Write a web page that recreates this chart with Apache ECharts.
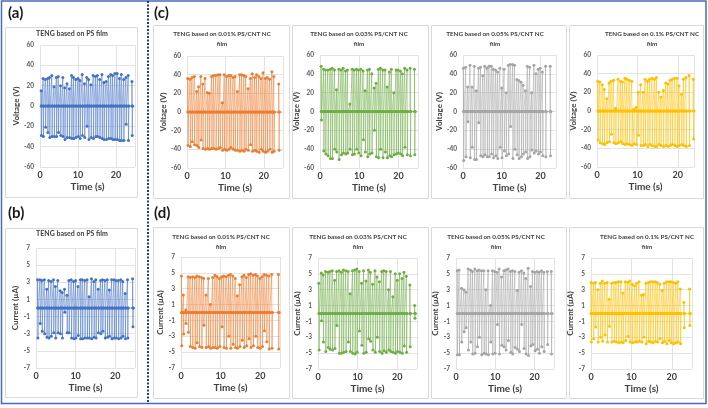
<!DOCTYPE html>
<html>
<head>
<meta charset="utf-8">
<script src="https://cdn.jsdelivr.net/npm/echarts@6/dist/echarts.min.js"></script>
<style>
  html, body { margin: 0; padding: 0; background: #fff; }
  #chart { width: 708px; height: 408px; }
</style>
</head>
<body>
<div id="chart"></div>
<script>
// time stamps (s) of each output pulse, and the peak values
const timeA = [0.3,0.8,1.4,2.0,2.5,3.1,3.7,4.3,4.8,5.4,6.0,6.5,7.1,7.7,8.3,8.8,9.4,10.0,10.5,11.1,11.7,12.3,12.8,13.4,14.0,14.6,15.1,15.7,16.3,16.8,17.4,18.0,18.6,19.1,19.7,20.3,20.9,21.4,22.0,22.6,23.2,24.2];
const upA = [15,27,26,27,28,30,19,28,29,20,28,18,22,17,30,28,26,27,25,31,22,28,26,21,30,29,30,26,31,23,24,29,31,30,32,32,27,31,26,28,30,24];
const dnA = [-29,-30,-21,-26,-31,-30,-30,-30,-26,-29,-30,-33,-31,-31,-32,-32,-31,-30,-32,-29,-31,-20,-33,-31,-32,-30,-30,-31,-32,-33,-33,-32,-32,-33,-33,-33,-34,-34,-34,-18,-34,-29];

const timeB = [0.4,1.0,1.5,2.1,2.7,3.2,3.8,4.4,4.9,5.5,6.1,6.6,7.2,7.8,8.3,8.9,9.5,10.0,10.6,11.2,11.7,12.3,12.9,13.4,14.0,14.6,15.1,15.7,16.3,16.8,17.4,18.0,18.5,19.1,19.7,20.2,20.8,21.4,21.9,22.5,23.1,24.4];
const upB = [3.3,3.3,3.2,3.3,2.2,3.2,3.1,3.3,2.5,3.2,2.0,1.8,2.2,1.5,3.2,3.3,3.1,3.2,2.5,3.3,3.3,3.2,3.3,1.3,3.4,3.1,3.3,2.2,3.2,3.3,3.2,3.3,2.1,3.3,3.3,3.2,3.2,3.3,3.1,1.7,3.3,3.4];
const dnB = [-3.5,-1.8,-2.7,-3.0,-3.4,-3.5,-3.3,-2.9,-3.5,-2.9,-3.0,-3.5,-0.5,-2.9,-2.9,-3.5,-3.6,-3.5,-3.2,-3.6,-3.6,-3.5,-3.5,-3.5,-3.6,-3.4,-3.5,-2.9,-3.0,-2.7,-3.5,-3.4,-3.3,-3.6,-3.5,-3.5,-3.6,-3.5,-3.3,-3.6,-3.5,-2.2];

const timeC1 = [0.2,0.8,1.3,1.9,2.5,3.0,3.6,4.1,4.7,5.3,5.8,6.4,6.9,7.5,8.1,8.6,9.2,9.7,10.3,10.9,11.4,12.0,12.5,13.1,13.7,14.2,14.8,15.3,15.9,16.5,17.0,17.6,18.1,18.7,19.3,19.8,20.4,20.9,21.5,22.1,22.6,23.9];
const upC1 = [36,35,37,38,22,27,38,30,36,21,20,38,39,39,40,40,10,40,38,39,39,37,38,22,40,40,39,38,25,36,41,37,40,38,36,42,36,37,35,43,38,30];
const dnC1 = [-36,-37,-32,-35,-36,-38,-30,-39,-40,-39,-40,-39,-39,-40,-39,-38,-41,-40,-41,-40,-38,-40,-41,-41,-42,-41,-42,-40,-41,-35,-42,-41,-42,-43,-40,-42,-43,-42,-40,-43,-42,-41];

const timeC2 = [0.3,0.9,1.4,2.0,2.6,3.1,3.7,4.2,4.8,5.4,5.9,6.5,7.0,7.6,8.2,8.7,9.3,9.8,10.4,11.0,11.5,12.1,12.6,13.2,13.8,14.3,14.9,15.4,16.0,16.6,17.1,17.7,18.2,18.8,19.4,19.9,20.5,21.0,21.6,22.2,23.0,24.1];
const upC2 = [48,45,44,44,45,46,44,23,45,44,46,43,44,8,45,44,45,44,45,43,22,44,45,40,25,30,45,46,44,44,26,42,45,20,44,44,43,40,46,44,46,45];
const dnC2 = [-9,-42,-45,-47,-50,-50,-40,-43,-51,-46,-44,-45,-44,-40,-46,-45,-40,-44,-47,-30,-43,-48,-45,-44,-20,-48,-49,-40,-49,-43,-49,-47,-48,-46,-45,-44,-45,-47,-38,-46,-47,-46];

const timeC3 = [0.1,0.7,1.2,1.8,2.3,2.9,3.4,4.0,4.5,5.1,5.6,6.2,6.7,7.3,7.8,8.4,8.9,9.5,10.0,10.6,11.1,11.7,12.2,12.8,13.3,13.9,14.4,15.0,15.5,16.1,16.6,17.2,17.7,18.3,18.8,19.4,19.9,20.5,21.3,22.5];
const upC3 = [46,47,26,49,26,48,22,46,47,38,48,46,48,48,45,44,42,46,25,45,20,49,50,50,49,34,33,31,28,22,48,47,20,49,40,45,46,42,48,48];
const dnC3 = [-52,-48,-11,-49,-38,-51,-51,-12,-47,-48,-46,-48,-48,-45,-49,-47,-50,-38,-49,-42,-47,-45,-16,-50,-40,-46,-50,-48,-45,-43,-50,-48,-41,-44,-42,-45,-43,-47,-48,-47];

const timeC4 = [0.2,0.7,1.3,1.8,2.4,3.0,3.5,4.1,4.6,5.2,5.8,6.3,6.9,7.4,8.0,8.6,9.1,9.7,10.2,10.8,11.4,11.9,12.5,13.0,13.6,14.2,14.7,15.3,15.8,16.4,17.0,17.5,18.1,18.6,19.2,19.8,20.3,20.9,21.4,22.0,22.8,23.8];
const upC4 = [32,31,28,23,13,30,32,33,3,34,32,31,35,34,33,32,2,4,20,28,20,34,32,34,35,34,36,20,15,22,30,29,33,34,35,35,27,18,34,36,38,34];
const dnC4 = [-31,-34,-35,-36,-34,-33,-25,-34,-35,-34,-33,-35,-36,-35,-36,-37,-35,-36,-26,-37,-37,-36,-38,-36,-37,-38,-38,-36,-37,-38,-37,-38,-37,-36,-37,-38,-37,-36,-37,-38,-37,-30];

const timeD1 = [0.1,0.6,1.2,1.8,2.3,2.9,3.5,4.0,4.6,5.2,5.7,6.3,6.9,7.4,8.0,8.6,9.1,9.7,10.3,10.8,11.4,12.0,12.5,13.1,13.7,14.2,14.8,15.4,15.9,16.5,17.1,17.6,18.2,18.8,19.3,19.9,20.5,21.0,21.6,22.2,22.9,24.6];
const upD1 = [4.6,2.2,0.3,4.5,4.4,4.5,4.4,4.6,4.5,4.4,4.3,2.2,4.3,1.0,4.4,4.7,4.5,4.3,4.5,4.6,4.5,4.7,4.8,4.6,4.3,2.1,3.5,4.5,4.7,4.4,4.8,4.9,4.7,4.8,4.6,4.3,4.5,4.8,4.7,4.6,4.8,4.8];
const dnD1 = [-4.2,-2.7,-1.4,-2.5,-4.3,-4.4,-4.5,-3.8,-4.3,-4.4,-1.6,-4.4,-4.3,-4.5,-4.4,-4.4,-4.5,-4.3,-1.8,-4.4,-4.5,-3.0,-4.5,-4.0,-4.4,-4.5,-4.3,-3.5,-4.4,-4.2,-3.3,-4.4,-4.2,-3.0,-4.4,-4.5,-4.3,-2.3,-3.7,-4.6,-4.5,-4.6];

const timeD2 = [0.2,0.8,1.3,1.9,2.5,3.0,3.6,4.2,4.7,5.3,5.9,6.4,7.0,7.6,8.1,8.7,9.3,9.8,10.4,11.0,11.5,12.1,12.7,13.2,13.8,14.4,14.9,15.5,16.1,16.6,17.2,17.8,18.3,18.9,19.5,20.0,20.6,21.2,21.7,22.3,23.2,24.4];
const upD2 = [3.8,5.1,4.9,5.3,5.2,5.3,5.4,4.2,5.3,5.4,5.2,5.5,5.4,5.3,2.5,5.4,5.5,5.6,5.3,3.8,5.4,4.1,5.5,5.2,3.7,5.4,4.6,4.0,5.3,5.4,5.3,3.0,5.3,2.1,5.0,4.2,5.0,4.4,5.2,4.7,3.6,1.0];
const dnD2 = [-4.6,-0.9,-3.6,-4.8,-4.3,-4.5,-4.6,-4.4,-1.5,-5.0,-5.0,-4.9,-4.8,-3.6,-4.8,-5.0,-5.1,-4.9,-2.2,-4.0,-5.0,-4.9,-3.2,-3.5,-4.6,-4.9,-3.0,-4.8,-5.0,-4.7,-4.9,-4.6,-4.8,-4.9,-5.0,-4.8,-4.9,-5.0,-4.1,-4.9,-4.2,-0.6];

const timeD3 = [0.3,0.8,1.4,2.0,2.5,3.1,3.7,4.2,4.8,5.4,5.9,6.5,7.1,7.6,8.2,8.8,9.3,9.9,10.5,11.0,11.6,12.2,12.7,13.3,13.9,14.4,15.0,15.6,16.1,16.7,17.3,17.8,18.4,19.0,19.5,20.1,20.7,21.2,21.8,22.4,23.3,24.3];
const upD3 = [5.4,5.5,3.2,3.0,2.7,5.6,5.5,5.3,5.6,5.4,5.5,5.4,5.4,3.0,5.4,1.0,5.4,5.3,5.2,5.6,4.6,5.4,5.5,5.6,5.3,5.4,5.3,2.9,5.2,5.4,5.1,4.4,5.7,3.4,5.3,5.2,5.3,5.2,5.4,5.2,5.3,5.3];
const dnD3 = [-5.2,-5.2,-3.6,-2.3,-1.8,-4.6,-3.6,-5.1,-5.0,-4.2,-3.0,-5.2,-5.0,-5.1,-5.2,-3.6,-5.1,-5.0,-1.4,-5.1,-4.0,-4.2,-4.6,-3.4,-4.9,-5.1,-4.3,-4.5,-4.8,-1.4,-4.4,-5.1,-5.3,-4.1,-3.9,-4.7,-4.5,-5.0,-4.2,-4.8,-3.9,-5.1];

const timeD4 = [0.0,0.6,1.1,1.7,2.3,2.8,3.4,4.0,4.5,5.1,5.7,6.2,6.8,7.4,7.9,8.5,9.1,9.6,10.2,10.8,11.3,11.9,12.5,13.0,13.6,14.2,14.7,15.3,15.9,16.4,17.0,17.6,18.1,18.7,19.3,19.8,20.4,21.0,21.5,22.1,23.0,24.4];
const upD4 = [3.9,3.8,3.9,3.0,3.8,4.1,3.8,3.9,1.8,3.8,3.9,3.9,4.0,4.0,2.6,4.0,3.9,4.1,3.7,3.5,3.8,4.0,2.3,2.4,3.8,3.9,4.0,4.0,4.0,3.9,3.7,2.9,3.8,4.0,4.0,4.0,3.9,3.8,4.0,3.1,1.4,3.1];
const dnD4 = [-3.6,-3.2,-1.7,-3.6,-3.0,-3.5,-2.7,-3.6,-1.6,-3.6,-3.5,-3.6,-3.7,-3.6,-3.7,-3.4,-2.9,-3.6,-3.7,-3.6,-3.6,-3.5,-3.6,-3.0,-3.8,-3.5,-3.6,-3.7,-3.5,-3.6,-3.2,-3.7,-3.5,-3.8,-3.4,-3.7,-3.8,-3.7,-3.6,-3.8,-1.8,-1.5];

const titles = [
  'TENG based on PS film',
  'TENG based on 0.01% PS/CNT NC\nfilm',
  'TENG based on 0.03% PS/CNT NC\nfilm',
  'TENG based on 0.05% PS/CNT NC\nfilm',
  'TENG based on 0.1% PS/CNT NC\nfilm'
];
const voltTicks = { min: -60, max: 60, interval: 20 };
const currTicks = { min: -7, max: 7, interval: 2 };

const BLUE = '#4472C4', ORANGE = '#ED7D31', GREEN = '#70AD47', GREY = '#A5A5A5', GOLD = '#FFC000';
const FONT = 'Lato, "Open Sans", sans-serif';

// layout of each small chart (plot area + outer chart box + title anchor)
const panels = [
  { t: timeA, up: upA, dn: dnA, color: BLUE, volt: true, xMax: 25, title: titles[0],
    grid: { left: 40, top: 45, width: 95, height: 122 }, box: [5, 27, 132, 170], tx: 72, ty: 29 },
  { t: timeB, up: upB, dn: dnB, color: BLUE, volt: false, xMax: 25, title: titles[0],
    grid: { left: 36, top: 248, width: 99, height: 120 }, box: [5, 228, 132, 169], tx: 72, ty: 229 },
  { t: timeC1, up: upC1, dn: dnC1, color: ORANGE, volt: true, xMax: 25, title: titles[1],
    grid: { left: 187, top: 56, width: 96, height: 112 }, box: [153, 25, 136, 173], tx: 222, ty: 29 },
  { t: timeC2, up: upC2, dn: dnC2, color: GREEN, volt: true, xMax: 25, title: titles[2],
    grid: { left: 320, top: 55, width: 98, height: 113 }, box: [292, 25, 136, 173], tx: 359, ty: 29 },
  { t: timeC3, up: upC3, dn: dnC3, color: GREY, volt: true, xMax: 24, title: titles[3],
    grid: { left: 463, top: 55, width: 93, height: 113 }, box: [431, 25, 135, 173], tx: 495, ty: 29 },
  { t: timeC4, up: upC4, dn: dnC4, color: GOLD, volt: true, xMax: 24, title: titles[4],
    grid: { left: 597, top: 55, width: 97, height: 112 }, box: [569, 25, 134, 173], tx: 652, ty: 29 },
  { t: timeD1, up: upD1, dn: dnD1, color: ORANGE, volt: false, xMax: 25, title: titles[1],
    grid: { left: 181, top: 257, width: 99, height: 111 }, box: [153, 227, 136, 171], tx: 221, ty: 232 },
  { t: timeD2, up: upD2, dn: dnD2, color: GREEN, volt: false, xMax: 25, title: titles[2],
    grid: { left: 318, top: 258, width: 99, height: 111 }, box: [292, 227, 136, 171], tx: 358, ty: 232 },
  { t: timeD3, up: upD3, dn: dnD3, color: GREY, volt: false, xMax: 25, title: titles[3],
    grid: { left: 456, top: 258, width: 98, height: 111 }, box: [431, 227, 135, 171], tx: 496, ty: 232 },
  { t: timeD4, up: upD4, dn: dnD4, color: GOLD, volt: false, xMax: 25, title: titles[4],
    grid: { left: 591, top: 258, width: 101, height: 111 }, box: [569, 227, 134, 171], tx: 647, ty: 232 }
];

// each pulse: rest at 0, jump to the positive peak, swing to the negative peak, back to 0
function pulseData(t, up, dn) {
  const out = [];
  const n = Math.min(t.length, up.length, dn.length);
  for (let i = 0; i < n; i++) {
    out.push([t[i], 0], [t[i], up[i]], [t[i] + 0.08, dn[i]], [t[i] + 0.2, 0]);
  }
  return out;
}

const grids = [], xAxes = [], yAxes = [], series = [], graphics = [];

panels.forEach((p, i) => {
  graphics.push({
    type: 'rect', silent: true, z: -1,
    shape: { x: p.box[0] + 0.5, y: p.box[1] + 0.5, width: p.box[2], height: p.box[3] },
    style: { fill: '#fff', stroke: '#d9d9d9', lineWidth: 1 }
  });
  graphics.push({
    type: 'text', silent: true, x: p.tx, y: p.ty,
    style: { text: p.title, fontSize: p.title.indexOf('\n') > 0 ? 6.3 : 7, fontWeight: 'bold', fontFamily: FONT,
             fill: '#404040', align: 'center', verticalAlign: 'top', lineHeight: 10 }
  });

  grids.push(Object.assign({ containLabel: false }, p.grid));
  const ticks = p.volt ? voltTicks : currTicks;

  xAxes.push({
    type: 'value', gridIndex: i, min: 0, max: p.xMax, interval: 10,
    name: 'Time (s)', nameLocation: 'middle', nameGap: 15,
    nameTextStyle: { fontSize: 10, fontWeight: 'bold', fontFamily: FONT, color: '#404040' },
    axisLine: { show: false }, axisTick: { show: false },
    axisLabel: { fontSize: 9, fontWeight: 'bold', fontFamily: FONT, color: '#404040', margin: 4, showMaxLabel: false },
    splitLine: { show: true, lineStyle: { color: '#e3e3e3', width: 1 } }
  });
  yAxes.push({
    type: 'value', gridIndex: i, min: ticks.min, max: ticks.max, interval: ticks.interval,
    name: p.volt ? 'Voltage (V)' : 'Current (µA)', nameLocation: 'middle', nameGap: 17, nameRotate: 90,
    nameTextStyle: { fontSize: 8, fontWeight: 'bold', fontFamily: FONT, color: '#404040' },
    axisLine: { show: false }, axisTick: { show: false },
    axisLabel: { fontSize: 6.5, fontWeight: 'bold', fontFamily: FONT, color: '#595959', margin: 6 },
    splitLine: { show: true, lineStyle: { color: '#e3e3e3', width: 1 } }
  });
  series.push({
    type: 'line', xAxisIndex: i, yAxisIndex: i,
    data: pulseData(p.t, p.up, p.dn),
    symbol: 'circle', symbolSize: 3, showSymbol: true,
    itemStyle: { color: p.color },
    lineStyle: { color: p.color, width: 1, opacity: 0.55 },
    animation: false, silent: true
  });
});

// panel letters, outer frame and the dotted divider
[['(a)', 8, 6], ['(b)', 8, 206], ['(c)', 154, 6], ['(d)', 154, 206]].forEach(([txt, x, y]) => {
  graphics.push({
    type: 'text', silent: true, x: x, y: y,
    style: { text: txt, fontSize: 15, fontWeight: 'bold', fontFamily: FONT, fill: '#1a1a1a' }
  });
});
graphics.push({
  type: 'rect', silent: true,
  shape: { x: 1.5, y: 1, width: 704.5, height: 402.5 },
  style: { fill: null, stroke: '#4a6bb5', lineWidth: 1.5 }
});
graphics.push({
  type: 'line', silent: true,
  shape: { x1: 148, y1: 1, x2: 148, y2: 404 },
  style: { stroke: '#1f3b8f', lineWidth: 2, lineDash: [2, 1.5] }
});

const chart = echarts.init(document.getElementById('chart'));
chart.setOption({
  backgroundColor: '#fff',
  animation: false,
  grid: grids,
  xAxis: xAxes,
  yAxis: yAxes,
  series: series,
  graphic: graphics
});
</script>
</body>
</html>
